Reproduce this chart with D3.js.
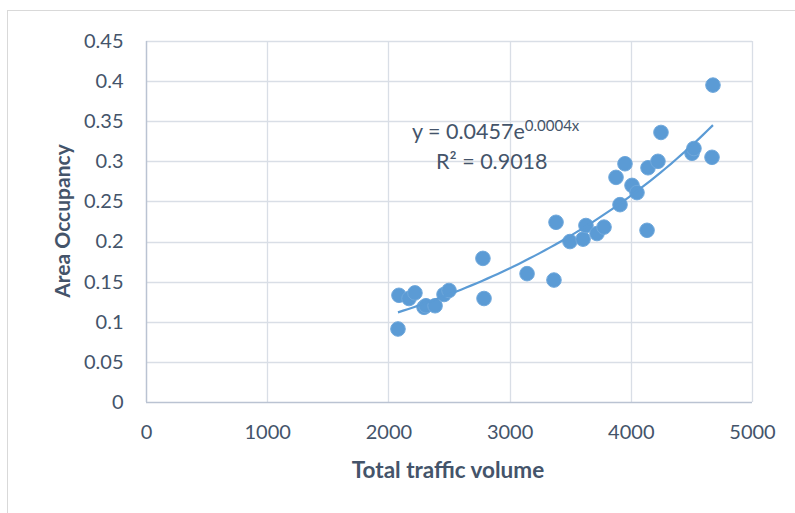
<!DOCTYPE html>
<html>
<head>
<meta charset="utf-8">
<script src="https://cdn.jsdelivr.net/npm/d3@7"></script>
<style>
  html, body { margin: 0; padding: 0; background: #fff; }
  svg { display: block; }
</style>
</head>
<body>
<svg id="chart" width="795" height="513"></svg>
<script>
// Observations: total traffic volume vs. area occupancy
const trafficVolume = [2079, 2087, 2170, 2219, 2294, 2310, 2385, 2459, 2500, 2780, 2789,
  3144, 3366, 3383, 3498, 3606, 3630, 3721, 3779, 3878, 3911, 3952, 4010, 4051,
  4134, 4142, 4224, 4249, 4505, 4521, 4670, 4678];
const areaOccupancy = [0.091, 0.133, 0.129, 0.136, 0.118, 0.120, 0.120, 0.134, 0.139, 0.179, 0.129,
  0.160, 0.152, 0.224, 0.200, 0.203, 0.220, 0.210, 0.218, 0.280, 0.246, 0.297, 0.270, 0.261,
  0.214, 0.292, 0.300, 0.336, 0.310, 0.316, 0.305, 0.395];

const xTicks = [0, 1000, 2000, 3000, 4000, 5000];
const yTicks = [0, 0.05, 0.1, 0.15, 0.2, 0.25, 0.3, 0.35, 0.4, 0.45];
const equationLabel = ["y = 0.0457e", "0.0004x"];
const rSquaredLabel = "R² = 0.9018";

const svg = d3.select("#chart");
const plot = { left: 146, right: 752, top: 41, bottom: 402 };

const x = d3.scaleLinear().domain([0, 5000]).range([plot.left, plot.right]);
const y = d3.scaleLinear().domain([0, 0.45]).range([plot.bottom, plot.top]);

const textColor = "#44546A";
const gridColor = "#D9DEE6";
const axisColor = "#BAC3D2";
const blue = "#5B9BD5";
const font = "Lato, 'Open Sans', sans-serif";

// chart frame
svg.append("rect").attr("x", 7.5).attr("y", 10.5).attr("width", 800).attr("height", 520)
  .attr("fill", "none").attr("stroke", "#D9D9D9").attr("stroke-width", 1);

// gridlines
svg.append("g").selectAll("line").data(yTicks.slice(1)).join("line")
  .attr("x1", plot.left).attr("x2", plot.right)
  .attr("y1", d => Math.round(y(d)) + 0.5).attr("y2", d => Math.round(y(d)) + 0.5)
  .attr("stroke", gridColor).attr("stroke-width", 1.3);
svg.append("g").selectAll("line").data(xTicks.slice(1)).join("line")
  .attr("y1", plot.top).attr("y2", plot.bottom)
  .attr("x1", d => Math.round(x(d)) + 0.5).attr("x2", d => Math.round(x(d)) + 0.5)
  .attr("stroke", gridColor).attr("stroke-width", 1.3);

// axes
const xAxis = svg.append("g").attr("transform", `translate(0,${plot.bottom + 0.5})`)
  .call(d3.axisBottom(x).tickValues(xTicks).tickSize(0).tickPadding(22).tickFormat(d3.format("d")));
const yAxis = svg.append("g").attr("transform", `translate(${plot.left + 0.5},0)`)
  .call(d3.axisLeft(y).tickValues(yTicks).tickSize(0).tickPadding(23).tickFormat(d => String(d)));
[xAxis, yAxis].forEach(g => {
  g.select(".domain").attr("stroke", axisColor).attr("stroke-width", 1.5);
  g.selectAll("text").attr("fill", textColor).attr("font-family", font).attr("font-size", 20);
});
yAxis.select(".domain").attr("d", `M0,${plot.top}V${plot.bottom}`);
xAxis.select(".domain").attr("d", `M${plot.left},0H${plot.right}`);

// axis titles
svg.append("text").attr("x", 448).attr("y", 478)
  .attr("text-anchor", "middle").attr("font-family", font).attr("font-weight", "bold")
  .attr("font-size", 22.5).attr("fill", textColor).text("Total traffic volume");
svg.append("text").attr("transform", `translate(70,221) rotate(-90)`)
  .attr("text-anchor", "middle").attr("font-family", font).attr("font-weight", "bold")
  .attr("font-size", 21).attr("fill", textColor).text("Area Occupancy");

// exponential least-squares fit (ln y = ln a + b x)
const n = trafficVolume.length;
const lnY = areaOccupancy.map(Math.log);
const mx = d3.mean(trafficVolume), my = d3.mean(lnY);
let sxy = 0, sxx = 0;
for (let i = 0; i < n; i++) {
  sxy += (trafficVolume[i] - mx) * (lnY[i] - my);
  sxx += (trafficVolume[i] - mx) ** 2;
}
const b = sxy / sxx, a = Math.exp(my - b * mx);
const [xMin, xMax] = d3.extent(trafficVolume);
const trendX = d3.range(0, 61).map(i => xMin + (xMax - xMin) * i / 60);

// points
svg.append("g").selectAll("circle").data(trafficVolume.map((v, i) => [v, areaOccupancy[i]])).join("circle")
  .attr("cx", d => x(d[0])).attr("cy", d => y(d[1])).attr("r", 7.3)
  .attr("fill", blue).attr("stroke", "#6FA8DC").attr("stroke-width", 1);

// trendline
svg.append("path").datum(trendX)
  .attr("d", d3.line().x(d => x(d)).y(d => y(a * Math.exp(b * d))))
  .attr("fill", "none").attr("stroke", blue).attr("stroke-width", 2.2);

// equation labels
const eq = svg.append("text").attr("x", 412).attr("y", 139)
  .attr("font-family", font).attr("font-size", 21.5).attr("fill", textColor);
eq.append("tspan").text(equationLabel[0]);
eq.append("tspan").attr("dy", -8).attr("font-size", 15).text(equationLabel[1]);
svg.append("text").attr("x", 436).attr("y", 169)
  .attr("font-family", font).attr("font-size", 21.5).attr("fill", textColor).text(rSquaredLabel);
</script>
</body>
</html>
